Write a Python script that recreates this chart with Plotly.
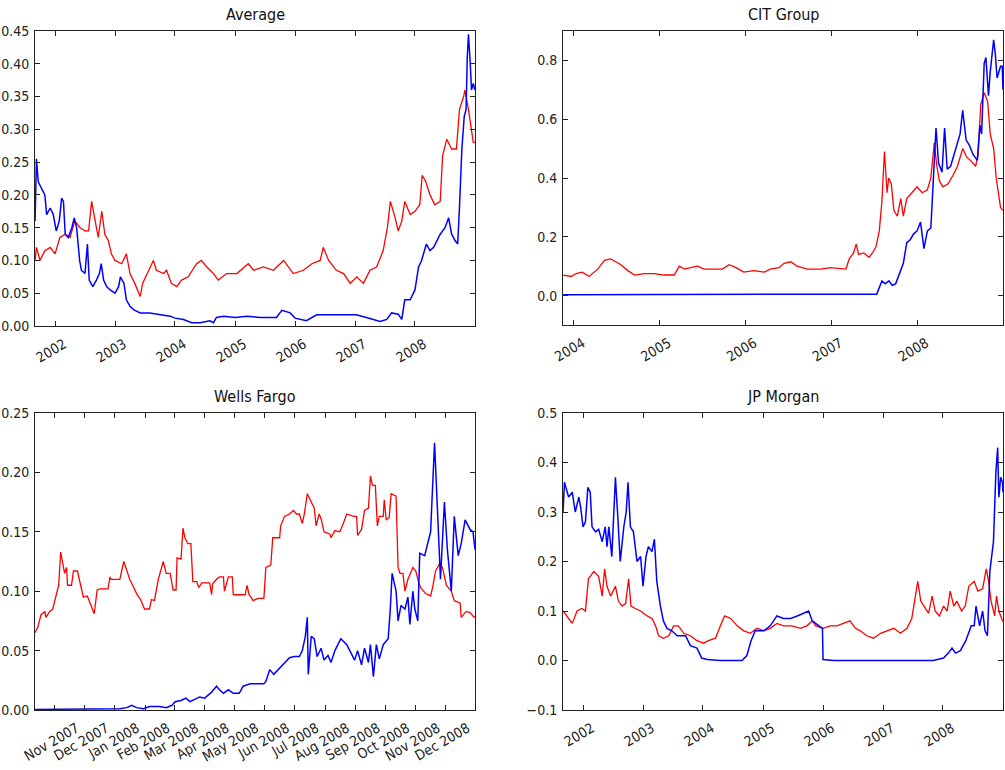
import pandas as pd
import plotly.graph_objects as go

# ---------------- data (decimal years / dates, values) ----------------
avg_blue_t = [2001.667, 2001.69, 2001.72, 2001.78, 2001.83, 2001.86, 2001.92, 2001.97, 2002.02, 2002.07,
              2002.11, 2002.14, 2002.17, 2002.22, 2002.28, 2002.32, 2002.36, 2002.41, 2002.44, 2002.50,
              2002.54, 2002.57, 2002.63, 2002.69, 2002.74, 2002.77, 2002.81, 2002.86, 2002.92, 2003.00,
              2003.06, 2003.09, 2003.15, 2003.19, 2003.25, 2003.31, 2003.42, 2003.58, 2003.75, 2003.92,
              2004.00, 2004.14, 2004.28, 2004.42, 2004.58, 2004.64, 2004.69, 2004.81, 2005.00, 2005.19,
              2005.42, 2005.69, 2005.78, 2005.92, 2006.00, 2006.19, 2006.36, 2006.64, 2007.02, 2007.19,
              2007.42, 2007.53, 2007.61, 2007.72, 2007.78, 2007.83, 2007.92, 2008.00, 2008.06, 2008.11,
              2008.19, 2008.25, 2008.31, 2008.42, 2008.50, 2008.56, 2008.61, 2008.67, 2008.71, 2008.74,
              2008.78, 2008.82, 2008.85, 2008.87, 2008.89, 2008.92, 2008.94, 2008.97, 2008.998]
avg_blue_v = [0.16, 0.255, 0.22, 0.21, 0.20, 0.17, 0.18, 0.17, 0.145, 0.16,
              0.195, 0.19, 0.14, 0.135, 0.15, 0.165, 0.15, 0.10, 0.085, 0.08,
              0.125, 0.07, 0.06, 0.07, 0.08, 0.095, 0.07, 0.06, 0.055, 0.05,
              0.06, 0.075, 0.065, 0.04, 0.03, 0.025, 0.02, 0.02, 0.018, 0.015,
              0.012, 0.01, 0.005, 0.005, 0.008, 0.005, 0.013, 0.015, 0.013, 0.015,
              0.013, 0.013, 0.024, 0.02, 0.012, 0.008, 0.017, 0.017, 0.017, 0.013,
              0.007, 0.01, 0.02, 0.018, 0.01, 0.04, 0.04, 0.055, 0.09, 0.10,
              0.125, 0.115, 0.12, 0.14, 0.15, 0.165, 0.14, 0.13, 0.125, 0.18,
              0.27, 0.32, 0.33, 0.41, 0.445, 0.40, 0.36, 0.37, 0.36]

avg_red_t = [2001.667, 2001.69, 2001.75, 2001.83, 2001.92, 2002.00, 2002.08, 2002.17, 2002.25, 2002.33,
             2002.42, 2002.50, 2002.56, 2002.61, 2002.67, 2002.72, 2002.78, 2002.83, 2002.89, 2002.94,
             2003.00, 2003.11, 2003.19, 2003.25, 2003.33, 2003.42, 2003.46, 2003.56, 2003.64, 2003.69,
             2003.81, 2003.86, 2003.94, 2004.03, 2004.11, 2004.22, 2004.36, 2004.44, 2004.53, 2004.64,
             2004.72, 2004.86, 2005.03, 2005.22, 2005.31, 2005.47, 2005.64, 2005.81, 2005.97, 2006.14,
             2006.28, 2006.42, 2006.47, 2006.56, 2006.69, 2006.81, 2006.92, 2007.03, 2007.14, 2007.25,
             2007.36, 2007.47, 2007.54, 2007.59, 2007.67, 2007.72, 2007.78, 2007.83, 2007.92, 2008.00,
             2008.08, 2008.12, 2008.18, 2008.25, 2008.33, 2008.42, 2008.46, 2008.53, 2008.61, 2008.69,
             2008.74, 2008.81, 2008.83, 2008.89, 2008.94, 2008.97, 2008.998]
avg_red_v = [0.10, 0.12, 0.10, 0.115, 0.12, 0.11, 0.135, 0.14, 0.135, 0.16,
             0.15, 0.145, 0.145, 0.19, 0.16, 0.135, 0.175, 0.14, 0.13, 0.11,
             0.10, 0.095, 0.11, 0.08, 0.065, 0.045, 0.065, 0.085, 0.10, 0.085,
             0.08, 0.085, 0.065, 0.06, 0.07, 0.075, 0.095, 0.10, 0.09, 0.08,
             0.07, 0.08, 0.08, 0.095, 0.085, 0.09, 0.085, 0.10, 0.08, 0.085,
             0.095, 0.10, 0.12, 0.10, 0.085, 0.08, 0.065, 0.075, 0.065, 0.085,
             0.09, 0.115, 0.15, 0.19, 0.165, 0.145, 0.16, 0.19, 0.17, 0.175,
             0.185, 0.23, 0.22, 0.20, 0.185, 0.19, 0.26, 0.285, 0.27, 0.27,
             0.33, 0.35, 0.36, 0.33, 0.30, 0.28, 0.28]

cit_blue_t = [2003.88, 2004.5, 2005.0, 2005.5, 2006.0, 2006.5, 2007.0, 2007.53, 2007.59, 2007.63,
              2007.67, 2007.71, 2007.75, 2007.79, 2007.84, 2007.88, 2007.92, 2007.96, 2008.00, 2008.04,
              2008.08, 2008.12, 2008.16, 2008.19, 2008.22, 2008.25, 2008.29, 2008.32, 2008.35, 2008.39,
              2008.45, 2008.50, 2008.53, 2008.57, 2008.61, 2008.65, 2008.70, 2008.73, 2008.75, 2008.78,
              2008.80, 2008.83, 2008.85, 2008.89, 2008.91, 2008.93, 2008.97, 2008.99, 2008.998]
cit_blue_v = [0.003, 0.003, 0.003, 0.004, 0.003, 0.003, 0.004, 0.005, 0.05, 0.04,
              0.05, 0.035, 0.04, 0.07, 0.11, 0.18, 0.19, 0.21, 0.22, 0.25,
              0.16, 0.22, 0.23, 0.40, 0.57, 0.45, 0.42, 0.57, 0.43, 0.44,
              0.50, 0.55, 0.63, 0.53, 0.51, 0.48, 0.46, 0.58, 0.55, 0.79,
              0.81, 0.68, 0.76, 0.87, 0.82, 0.74, 0.78, 0.78, 0.70]

cit_red_t = [2003.88, 2003.97, 2004.03, 2004.10, 2004.18, 2004.28, 2004.36, 2004.43, 2004.49, 2004.55,
             2004.63, 2004.71, 2004.82, 2004.94, 2005.05, 2005.17, 2005.23, 2005.29, 2005.36, 2005.44,
             2005.52, 2005.64, 2005.73, 2005.81, 2005.89, 2005.98, 2006.10, 2006.22, 2006.29, 2006.39,
             2006.45, 2006.53, 2006.60, 2006.72, 2006.88, 2006.99, 2007.11, 2007.17, 2007.21, 2007.26,
             2007.29, 2007.32, 2007.38, 2007.44, 2007.48, 2007.52, 2007.56, 2007.59, 2007.62, 2007.65,
             2007.67, 2007.70, 2007.73, 2007.77, 2007.81, 2007.84, 2007.88, 2007.94, 2008.00, 2008.06,
             2008.12, 2008.16, 2008.20, 2008.23, 2008.26, 2008.30, 2008.36, 2008.42, 2008.47, 2008.53,
             2008.58, 2008.62, 2008.68, 2008.71, 2008.74, 2008.78, 2008.82, 2008.85, 2008.89, 2008.92,
             2008.97, 2008.998]
cit_red_v = [0.07, 0.065, 0.075, 0.08, 0.065, 0.09, 0.12, 0.125, 0.115, 0.105,
             0.085, 0.07, 0.075, 0.075, 0.07, 0.07, 0.10, 0.09, 0.095, 0.10,
             0.09, 0.09, 0.09, 0.105, 0.095, 0.08, 0.085, 0.08, 0.09, 0.095,
             0.11, 0.115, 0.10, 0.09, 0.09, 0.095, 0.09, 0.09, 0.125, 0.145,
             0.175, 0.14, 0.145, 0.13, 0.145, 0.165, 0.22, 0.32, 0.49, 0.35,
             0.40, 0.38, 0.29, 0.27, 0.33, 0.27, 0.33, 0.35, 0.37, 0.35,
             0.36, 0.40, 0.52, 0.44, 0.39, 0.37, 0.38, 0.41, 0.44, 0.50,
             0.47, 0.46, 0.44, 0.48, 0.65, 0.69, 0.66, 0.55, 0.50, 0.40,
             0.30, 0.29]

wf_red_d = ["2007-10-12", "2007-10-15", "2007-10-18", "2007-10-22", "2007-10-23", "2007-10-27", "2007-10-30",
            "2007-11-03", "2007-11-05", "2007-11-07", "2007-11-09", "2007-11-11", "2007-11-13", "2007-11-14",
            "2007-11-18", "2007-11-20", "2007-11-24", "2007-11-26", "2007-11-30", "2007-12-04", "2007-12-07",
            "2007-12-11", "2007-12-14", "2007-12-17", "2007-12-25", "2007-12-27", "2007-12-28", "2008-01-06",
            "2008-01-10", "2008-01-13", "2008-01-16", "2008-01-19", "2008-01-23", "2008-01-27", "2008-01-31",
            "2008-02-05", "2008-02-07", "2008-02-10", "2008-02-14", "2008-02-19", "2008-02-22", "2008-02-26",
            "2008-02-29", "2008-03-03", "2008-03-04", "2008-03-08", "2008-03-10", "2008-03-12", "2008-03-15",
            "2008-03-18", "2008-03-20", "2008-03-24", "2008-03-26", "2008-03-29", "2008-04-01", "2008-04-06",
            "2008-04-08", "2008-04-09", "2008-04-13", "2008-04-16", "2008-04-20", "2008-04-21", "2008-04-25",
            "2008-04-29", "2008-04-30", "2008-05-12", "2008-05-14", "2008-05-16", "2008-05-18", "2008-05-20",
            "2008-05-25", "2008-05-31", "2008-06-02", "2008-06-07", "2008-06-09", "2008-06-16", "2008-06-17",
            "2008-06-21", "2008-06-26", "2008-06-30", "2008-07-03", "2008-07-06", "2008-07-09", "2008-07-11",
            "2008-07-14", "2008-07-18", "2008-07-21", "2008-07-23", "2008-07-26", "2008-07-28", "2008-07-31",
            "2008-08-06", "2008-08-07", "2008-08-11", "2008-08-16", "2008-08-19", "2008-08-23", "2008-08-30",
            "2008-09-02", "2008-09-03", "2008-09-07", "2008-09-10", "2008-09-14", "2008-09-16", "2008-09-18",
            "2008-09-21", "2008-09-23", "2008-09-25", "2008-09-29", "2008-09-30", "2008-10-02", "2008-10-05",
            "2008-10-07", "2008-10-12", "2008-10-14", "2008-10-16", "2008-10-19", "2008-10-21", "2008-10-24",
            "2008-10-29", "2008-11-01", "2008-11-04", "2008-11-06", "2008-11-11", "2008-11-16", "2008-11-18",
            "2008-11-21", "2008-11-25", "2008-11-28", "2008-12-02", "2008-12-07", "2008-12-10", "2008-12-16",
            "2008-12-17", "2008-12-22", "2008-12-26", "2008-12-29", "2008-12-31"]
wf_red_v = [0.065, 0.07, 0.08, 0.083, 0.078, 0.083, 0.085,
            0.097, 0.105, 0.133, 0.125, 0.115, 0.12, 0.105,
            0.105, 0.117, 0.117, 0.11, 0.095, 0.096, 0.09,
            0.081, 0.101, 0.102, 0.102, 0.112, 0.11, 0.11,
            0.125, 0.118, 0.11, 0.105, 0.098, 0.093, 0.085,
            0.085, 0.093, 0.092, 0.11, 0.125, 0.115, 0.115,
            0.101, 0.101, 0.128, 0.127, 0.153, 0.145, 0.14,
            0.14, 0.108, 0.108, 0.103, 0.107, 0.107, 0.107,
            0.097, 0.106, 0.11, 0.112, 0.112, 0.10, 0.112,
            0.112, 0.097, 0.097, 0.105, 0.097, 0.095, 0.092,
            0.094, 0.094, 0.12, 0.122, 0.145, 0.145, 0.155,
            0.163, 0.165, 0.168, 0.165, 0.165, 0.157, 0.165,
            0.182, 0.175, 0.17, 0.155, 0.165, 0.161, 0.15,
            0.148, 0.145, 0.151, 0.15, 0.156, 0.165, 0.163,
            0.163, 0.147, 0.152, 0.168, 0.17, 0.197, 0.189,
            0.189, 0.155, 0.163, 0.163, 0.177, 0.16, 0.162,
            0.182, 0.18, 0.12, 0.115, 0.115, 0.10, 0.11,
            0.12, 0.117, 0.107, 0.103, 0.098, 0.096, 0.103,
            0.117, 0.123, 0.12, 0.105, 0.10, 0.092, 0.09,
            0.078, 0.083, 0.082, 0.079, 0.078]

wf_blue_d = ["2007-10-12", "2007-12-27", "2008-01-06", "2008-01-13", "2008-01-18", "2008-01-23", "2008-01-30",
             "2008-02-05", "2008-02-15", "2008-02-22", "2008-02-28", "2008-03-02", "2008-03-08", "2008-03-13",
             "2008-03-17", "2008-03-22", "2008-03-27", "2008-04-01", "2008-04-08", "2008-04-13", "2008-04-16",
             "2008-04-20", "2008-04-25", "2008-04-30", "2008-05-06", "2008-05-10", "2008-05-17", "2008-05-24",
             "2008-05-31", "2008-06-02", "2008-06-06", "2008-06-10", "2008-06-16", "2008-06-21", "2008-06-26",
             "2008-07-01", "2008-07-06", "2008-07-09", "2008-07-12", "2008-07-14", "2008-07-15", "2008-07-18",
             "2008-07-21", "2008-07-24", "2008-07-28", "2008-07-31", "2008-08-04", "2008-08-07", "2008-08-11",
             "2008-08-14", "2008-08-17", "2008-08-23", "2008-08-28", "2008-08-31", "2008-09-03", "2008-09-07",
             "2008-09-10", "2008-09-14", "2008-09-16", "2008-09-19", "2008-09-22", "2008-09-25", "2008-09-29",
             "2008-10-02", "2008-10-04", "2008-10-06", "2008-10-08", "2008-10-12", "2008-10-14", "2008-10-17",
             "2008-10-21", "2008-10-24", "2008-10-26", "2008-10-29", "2008-10-31", "2008-11-03", "2008-11-05",
             "2008-11-10", "2008-11-13", "2008-11-16", "2008-11-20", "2008-11-23", "2008-11-26", "2008-11-30",
             "2008-12-03", "2008-12-07", "2008-12-10", "2008-12-14", "2008-12-17", "2008-12-21", "2008-12-26",
             "2008-12-29", "2008-12-31"]
wf_blue_v = [0.0005, 0.001, 0.001, 0.002, 0.004, 0.002, 0.001,
             0.003, 0.003, 0.002, 0.004, 0.007, 0.008, 0.01,
             0.007, 0.009, 0.011, 0.01, 0.015, 0.02, 0.017,
             0.014, 0.017, 0.014, 0.014, 0.02, 0.022, 0.022,
             0.022, 0.024, 0.034, 0.03, 0.035, 0.04, 0.044,
             0.045, 0.045, 0.05, 0.062, 0.078, 0.03, 0.062,
             0.06, 0.045, 0.052, 0.042, 0.046, 0.04, 0.05,
             0.055, 0.06, 0.055, 0.047, 0.042, 0.05, 0.038,
             0.052, 0.04, 0.055, 0.028, 0.055, 0.043, 0.055,
             0.058, 0.06, 0.083, 0.115, 0.10, 0.075, 0.088,
             0.085, 0.095, 0.072, 0.10, 0.085, 0.075, 0.132,
             0.13, 0.14, 0.15, 0.225, 0.165, 0.11, 0.175,
             0.135, 0.10, 0.163, 0.13, 0.14, 0.16, 0.152,
             0.15, 0.135]

jpm_blue_t = [2001.667, 2001.69, 2001.76, 2001.82, 2001.87, 2001.93, 2001.96, 2002.00, 2002.04, 2002.08,
              2002.12, 2002.15, 2002.21, 2002.26, 2002.32, 2002.37, 2002.40, 2002.43, 2002.48, 2002.54,
              2002.58, 2002.62, 2002.68, 2002.72, 2002.75, 2002.79, 2002.84, 2002.90, 2002.96, 2003.00,
              2003.05, 2003.09, 2003.15, 2003.19, 2003.23, 2003.29, 2003.34, 2003.40, 2003.48, 2003.57,
              2003.71, 2003.79, 2003.90, 2003.98, 2004.07, 2004.29, 2004.51, 2004.65, 2004.73, 2004.80,
              2004.87, 2005.01, 2005.12, 2005.23, 2005.34, 2005.46, 2005.57, 2005.68, 2005.76, 2005.82,
              2005.93, 2005.99, 2006.00, 2006.18, 2006.73, 2007.29, 2007.84, 2008.01, 2008.09, 2008.15,
              2008.21, 2008.29, 2008.38, 2008.47, 2008.52, 2008.55, 2008.61, 2008.66, 2008.70, 2008.74,
              2008.78, 2008.84, 2008.88, 2008.91, 2008.93, 2008.96, 2008.99, 2008.998]
jpm_blue_v = [0.30, 0.36, 0.33, 0.34, 0.30, 0.33, 0.31, 0.27, 0.28, 0.35,
              0.34, 0.27, 0.26, 0.265, 0.24, 0.27, 0.23, 0.27, 0.21, 0.37,
              0.29, 0.20, 0.27, 0.30, 0.36, 0.27, 0.26, 0.20, 0.21, 0.15,
              0.21, 0.23, 0.22, 0.245, 0.16, 0.11, 0.08, 0.065, 0.06, 0.05,
              0.05, 0.03, 0.025, 0.005, 0.002, 0.0, 0.0, 0.0, 0.01, 0.04,
              0.06, 0.06, 0.07, 0.09, 0.085, 0.085, 0.09, 0.095, 0.10, 0.08,
              0.07, 0.065, 0.002, 0.0, 0.0, 0.0, 0.0, 0.005, 0.015, 0.025,
              0.015, 0.02, 0.04, 0.07, 0.07, 0.11, 0.07, 0.10, 0.06, 0.05,
              0.18, 0.24, 0.38, 0.43, 0.33, 0.37, 0.36, 0.34]

jpm_red_t = [2001.667, 2001.73, 2001.82, 2001.90, 2001.98, 2002.04, 2002.09, 2002.18, 2002.26, 2002.32,
             2002.36, 2002.40, 2002.46, 2002.54, 2002.59, 2002.65, 2002.71, 2002.76, 2002.80, 2002.87,
             2002.96, 2003.07, 2003.15, 2003.21, 2003.26, 2003.34, 2003.43, 2003.51, 2003.59, 2003.68,
             2003.79, 2003.90, 2004.01, 2004.09, 2004.21, 2004.29, 2004.36, 2004.46, 2004.57, 2004.68,
             2004.79, 2004.90, 2005.01, 2005.12, 2005.23, 2005.34, 2005.48, 2005.62, 2005.73, 2005.82,
             2005.88, 2006.00, 2006.12, 2006.23, 2006.34, 2006.45, 2006.54, 2006.62, 2006.73, 2006.84,
             2006.96, 2007.07, 2007.18, 2007.29, 2007.40, 2007.48, 2007.54, 2007.58, 2007.63, 2007.71,
             2007.76, 2007.82, 2007.87, 2007.94, 2008.01, 2008.07, 2008.12, 2008.18, 2008.23, 2008.31,
             2008.37, 2008.43, 2008.52, 2008.58, 2008.66, 2008.72, 2008.76, 2008.80, 2008.86, 2008.89,
             2008.93, 2008.99, 2008.998]
jpm_red_v = [0.10, 0.09, 0.075, 0.10, 0.105, 0.10, 0.165, 0.18, 0.17, 0.13,
             0.185, 0.15, 0.13, 0.15, 0.12, 0.11, 0.115, 0.165, 0.11, 0.105,
             0.10, 0.09, 0.085, 0.07, 0.05, 0.045, 0.05, 0.07, 0.07, 0.055,
             0.05, 0.04, 0.035, 0.04, 0.045, 0.07, 0.09, 0.085, 0.07, 0.06,
             0.055, 0.065, 0.06, 0.065, 0.075, 0.07, 0.07, 0.065, 0.07, 0.08,
             0.07, 0.065, 0.07, 0.07, 0.075, 0.08, 0.065, 0.06, 0.05, 0.045,
             0.055, 0.06, 0.065, 0.055, 0.065, 0.085, 0.13, 0.16, 0.12, 0.105,
             0.095, 0.13, 0.10, 0.09, 0.11, 0.10, 0.14, 0.11, 0.12, 0.10,
             0.11, 0.15, 0.16, 0.14, 0.145, 0.185, 0.16, 0.12, 0.09, 0.13,
             0.10, 0.08, 0.08]

titles = ["Average", "CIT Group", "Wells Fargo", "JP Morgan"]


def to_dates(years):
    out = []
    for y in years:
        yr = int(y)
        start = pd.Timestamp(year=yr, month=1, day=1)
        n = (pd.Timestamp(year=yr + 1, month=1, day=1) - start).days
        out.append(start + pd.Timedelta(days=(y - yr) * n))
    return out


W, H = 1005, 770
BLUE, RED = "#0000ff", "#ff0000"
FONT = "DejaVu Sans Condensed, DejaVu Sans, sans-serif"

fig = go.Figure()

panels = [
    ("x", "y", to_dates(avg_blue_t), avg_blue_v, to_dates(avg_red_t), avg_red_v),
    ("x2", "y2", to_dates(cit_blue_t), cit_blue_v, to_dates(cit_red_t), cit_red_v),
    ("x3", "y3", wf_blue_d, wf_blue_v, wf_red_d, wf_red_v),
    ("x4", "y4", to_dates(jpm_blue_t), jpm_blue_v, to_dates(jpm_red_t), jpm_red_v),
]
for xa, ya, bx, by, rx, ry in panels:
    fig.add_trace(go.Scatter(x=rx, y=ry, mode="lines", line=dict(color=RED, width=1.3),
                             xaxis=xa, yaxis=ya, showlegend=False))
    fig.add_trace(go.Scatter(x=bx, y=by, mode="lines", line=dict(color=BLUE, width=1.5),
                             xaxis=xa, yaxis=ya, showlegend=False))

# pixel frames (left, right, top, bottom)
frames = [(35, 475, 31, 326), (563, 1003, 31, 325), (35, 475, 413, 710), (563, 1003, 413, 710)]


def xdom(l, r):
    return [l / W, r / W]


def ydom(t, b):
    return [1 - b / H, 1 - t / H]


axis_common = dict(showline=True, linecolor="#222222", linewidth=1, mirror="allticks",
                   ticks="inside", ticklen=5, tickcolor="#222222", showgrid=False, zeroline=False,
                   automargin=False,
                   tickfont=dict(family=FONT, size=14, color="#222222"))

xcfg = [
    dict(range=["2001-09-01", "2008-12-31 12:00"], tick0="2002-01-01", dtick="M12", tickformat="%Y"),
    dict(range=["2003-11-17", "2008-12-31 12:00"], tick0="2004-01-01", dtick="M12", tickformat="%Y"),
    dict(range=["2007-10-12", "2008-12-31"], tick0="2007-11-01", dtick="M1", tickformat="%b %Y"),
    dict(range=["2001-09-01", "2008-12-31 12:00"], tick0="2002-01-01", dtick="M12", tickformat="%Y"),
]
ycfg = [
    dict(range=[0, 0.45], tick0=0, dtick=0.05, tickformat=".2f"),
    dict(range=[-0.1, 0.9], tickvals=[0.0, 0.2, 0.4, 0.6, 0.8], tickformat=".1f"),
    dict(range=[0, 0.25], tick0=0, dtick=0.05, tickformat=".2f"),
    dict(range=[-0.1, 0.5], tick0=-0.1, dtick=0.1, tickformat=".1f"),
]
shifts = [9, 9, 22, 9]

layout = dict(width=W, height=H, margin=dict(l=0, r=0, t=0, b=0, autoexpand=False),
              plot_bgcolor="white", paper_bgcolor="white", showlegend=False)
for i, (l, r, t, b) in enumerate(frames):
    n = "" if i == 0 else str(i + 1)
    layout["xaxis" + n] = dict(domain=xdom(l, r), anchor="y" + n, type="date", tickangle=-30,
                               ticklabelshift=shifts[i], ticklabelstandoff=4, **xcfg[i], **axis_common)
    layout["yaxis" + n] = dict(domain=ydom(t, b), anchor="x" + n, ticklabelstandoff=2,
                               **ycfg[i], **axis_common)
fig.update_layout(**layout)

for i, (l, r, t, b) in enumerate(frames):
    n = "" if i == 0 else str(i + 1)
    fig.add_annotation(text=titles[i], xref="x" + n + " domain", yref="y" + n + " domain",
                       x=0.5, y=1, yanchor="bottom", xanchor="center", yshift=5, showarrow=False,
                       font=dict(family=FONT, size=16, color="#111111"))

fig.write_html("out.html")
